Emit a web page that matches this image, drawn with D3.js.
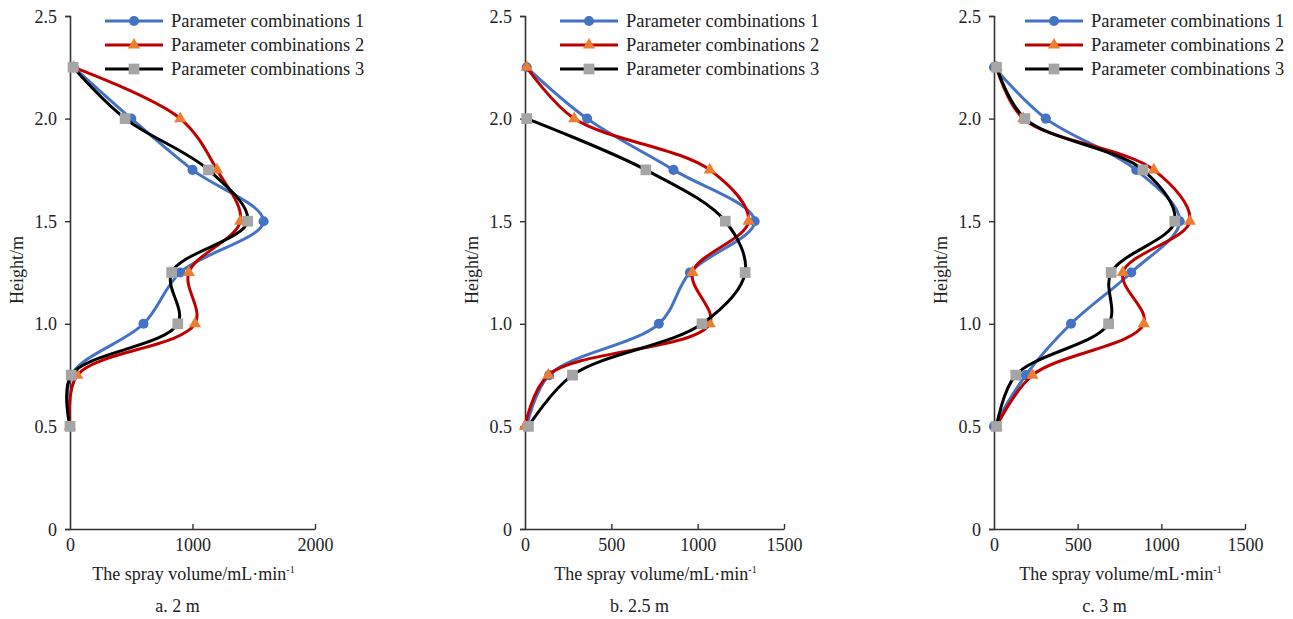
<!DOCTYPE html>
<html>
<head>
<meta charset="utf-8">
<script src="https://cdn.jsdelivr.net/npm/d3@7"></script>
<style>
  body { margin: 0; background: #fff; }
  svg text { font-family: "Liberation Serif", "Times New Roman", serif; fill: #222; }
</style>
</head>
<body>
<svg id="chart" width="1293" height="619"></svg>
<script>
// measurement heights (m)
const heights = [0.5, 0.75, 1.0, 1.25, 1.5, 1.75, 2.0, 2.25];
const seriesNames = ['Parameter combinations 1', 'Parameter combinations 2', 'Parameter combinations 3'];
const yTicks = [0, 0.5, 1.0, 1.5, 2.0, 2.5];

// a. 2 m
const volA1 = [0, 10, 600, 900, 1580, 1000, 500, 30];
const volA2 = [0, 60, 1020, 970, 1390, 1200, 900, 30];
const volA3 = [0, 10, 880, 830, 1450, 1130, 450, 25];
// b. 2.5 m
const volB1 = [10, 140, 775, 955, 1330, 860, 360, 10];
const volB2 = [0, 135, 1070, 970, 1295, 1070, 285, 10];
const volB3 = [20, 275, 1025, 1275, 1160, 700, 10, null];
// c. 3 m
const volC1 = [0, 190, 460, 820, 1110, 850, 310, 0];
const volC2 = [15, 230, 895, 770, 1170, 955, 175, 15];
const volC3 = [15, 130, 685, 700, 1080, 890, 185, 15];

const panels = [
  { caption: 'a. 2 m', x0: 70, x1: 315, xMax: 2000, xTicks: [0, 1000, 2000], legendX: 105, data: [volA1, volA2, volA3] },
  { caption: 'b. 2.5 m', x0: 525, x1: 784, xMax: 1500, xTicks: [0, 500, 1000, 1500], legendX: 560, data: [volB1, volB2, volB3] },
  { caption: 'c. 3 m', x0: 994, x1: 1245, xMax: 1500, xTicks: [0, 500, 1000, 1500], legendX: 1025, data: [volC1, volC2, volC3] },
];

const lineColors = ['#4472C4', '#C00000', '#000000'];
const markerColors = ['#4472C4', '#ED7D31', '#A5A5A5'];
const markerShapes = [d3.symbolCircle, d3.symbolTriangle, d3.symbolSquare];
const markerSizes = [80, 65, 115];

const svg = d3.select('#chart');
const yTop = 16, yBottom = 529;
const y = d3.scaleLinear().domain([0, 2.5]).range([yBottom, yTop]);
const fs = '18px';

panels.forEach((p) => {
  const x = d3.scaleLinear().domain([0, p.xMax]).range([p.x0, p.x1]);
  const g = svg.append('g');

  // axes
  const yAxis = g.append('g')
    .attr('transform', `translate(${p.x0},0)`)
    .call(d3.axisLeft(y).tickValues(yTicks).tickSizeOuter(0).tickSize(5).tickPadding(8)
      .tickFormat(d => (d === 0 ? '0' : d.toFixed(1))));
  yAxis.selectAll('text').style('font-size', fs).attr('dy', '0.34em');

  const xAxis = g.append('g')
    .attr('transform', `translate(0,${yBottom})`)
    .call(d3.axisBottom(x).tickValues(p.xTicks).tickSizeOuter(0).tickSizeInner(-5).tickPadding(9)
      .tickFormat(d3.format('d')));
  xAxis.selectAll('text').style('font-size', fs);

  [yAxis, xAxis].forEach((a) => {
    a.attr('font-family', null);
    a.select('.domain').attr('stroke', '#333').attr('stroke-width', 1.6);
    a.selectAll('.tick line').attr('stroke', '#333').attr('stroke-width', 1.4);
  });
  xAxis.selectAll('.tick').filter(d => d === 0).select('line').remove();

  // axis titles
  const xt = g.append('text')
    .attr('x', (p.x0 + p.x1) / 2 + 1)
    .attr('y', 580)
    .attr('text-anchor', 'middle')
    .style('font-size', fs)
    .text('The spray volume/mL·min');
  xt.append('tspan').attr('dy', -7).style('font-size', '10px').text('-1');

  g.append('text')
    .attr('transform', `translate(${p.x0 - 47},270) rotate(-90)`)
    .attr('text-anchor', 'middle')
    .style('font-size', fs)
    .text('Height/m');

  g.append('text')
    .attr('x', (p.x0 + p.x1) / 2 - 15)
    .attr('y', 612)
    .attr('text-anchor', 'middle')
    .style('font-size', fs)
    .text(p.caption);

  // series
  p.data.forEach((vals, i) => {
    const pts = heights.map((h, j) => ({ h, v: vals[j] }));
    const line = d3.line()
      .defined(d => d.v != null)
      .x(d => x(d.v))
      .y(d => y(d.h))
      .curve(d3.curveCatmullRom);
    g.append('path')
      .datum(pts)
      .attr('fill', 'none')
      .attr('stroke', lineColors[i])
      .attr('stroke-width', 3)
      .attr('d', line);
    g.selectAll(`.m${i}`)
      .data(pts.filter(d => d.v != null))
      .enter().append('path')
      .attr('class', `m${i}`)
      .attr('transform', d => `translate(${x(d.v)},${y(d.h)})`)
      .attr('fill', markerColors[i])
      .attr('d', d3.symbol().type(markerShapes[i]).size(markerSizes[i]));
  });

  // legend
  seriesNames.forEach((name, i) => {
    const ly = 21 + i * 24;
    const lg = g.append('g');
    lg.append('line')
      .attr('x1', p.legendX).attr('x2', p.legendX + 58)
      .attr('y1', ly).attr('y2', ly)
      .attr('stroke', lineColors[i]).attr('stroke-width', 3);
    lg.append('path')
      .attr('transform', `translate(${p.legendX + 29},${ly})`)
      .attr('fill', markerColors[i])
      .attr('d', d3.symbol().type(markerShapes[i]).size(markerSizes[i]));
    lg.append('text')
      .attr('x', p.legendX + 66)
      .attr('y', ly + 6)
      .style('font-size', '18.5px')
      .text(name);
  });
});
</script>
</body>
</html>
